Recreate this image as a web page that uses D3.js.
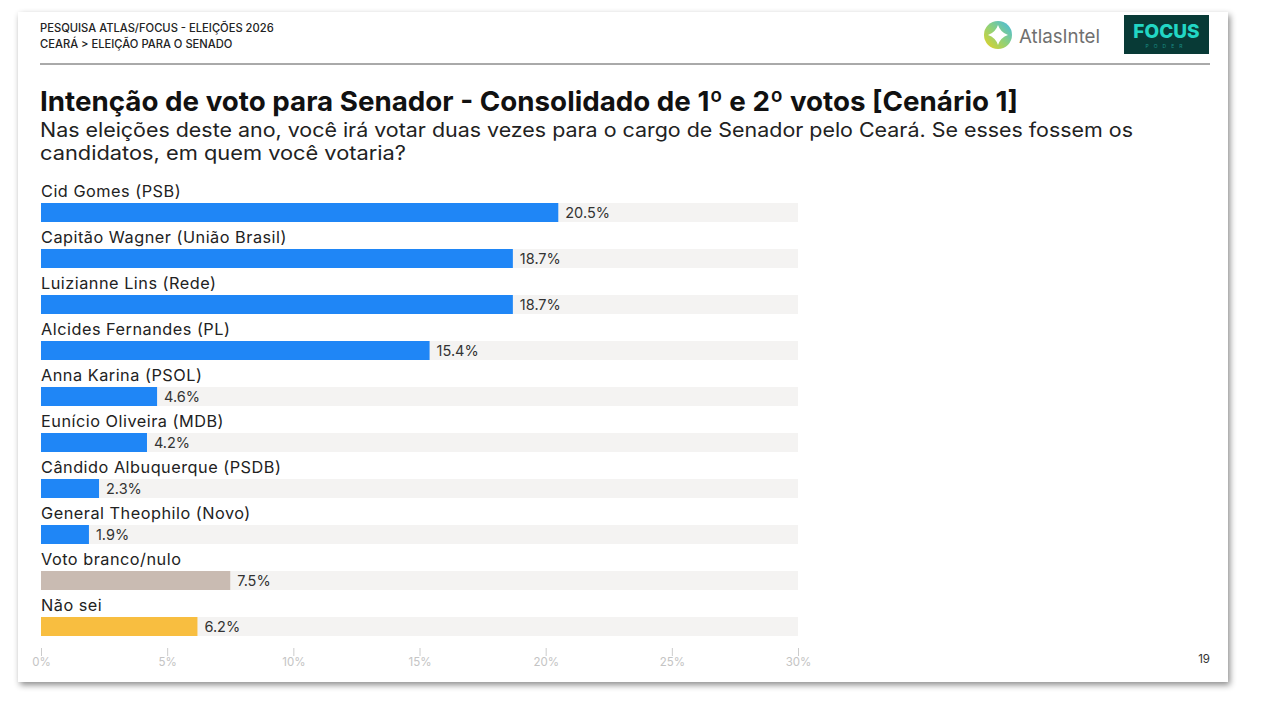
<!DOCTYPE html>
<html><head><meta charset="utf-8">
<script src="https://cdn.jsdelivr.net/npm/d3@7"></script>
<style>
html,body{margin:0;padding:0;background:#fff;}
svg{display:block;font-family:Inter,"Noto Sans",sans-serif;}
</style></head><body>
<svg id="c" width="1262" height="716"></svg>
<script>
const categories = ["Cid Gomes (PSB)","Capitão Wagner (União Brasil)","Luizianne Lins (Rede)","Alcides Fernandes (PL)","Anna Karina (PSOL)","Eunício Oliveira (MDB)","Cândido Albuquerque (PSDB)","General Theophilo (Novo)","Voto branco/nulo","Não sei"];
const values = [20.5,18.7,18.7,15.4,4.6,4.2,2.3,1.9,7.5,6.2];
const barGroups = ["cand","cand","cand","cand","cand","cand","cand","cand","blank","unknown"];
const tickValues = [0,5,10,15,20,25,30];
const tickLabels = ["0%","5%","10%","15%","20%","25%","30%"];
const headerLines = ["PESQUISA ATLAS/FOCUS - ELEIÇÕES 2026","CEARÁ > ELEIÇÃO PARA O SENADO"];
const title = "Intenção de voto para Senador - Consolidado de 1º e 2º votos [Cenário 1]";
const subtitleLines = ["Nas eleições deste ano, você irá votar duas vezes para o cargo de Senador pelo Ceará. Se esses fossem os","candidatos, em quem você votaria?"];

const svg = d3.select("#c");
const defs = svg.append("defs");
const f = defs.append("filter").attr("id","sh").attr("x","-5%").attr("y","-5%").attr("width","110%").attr("height","115%");
f.append("feDropShadow").attr("dx",2).attr("dy",3).attr("stdDeviation",3).attr("flood-color","#000").attr("flood-opacity",0.45);

// card
svg.append("rect").attr("x",18).attr("y",12).attr("width",1210).attr("height",670).attr("fill","#fff").attr("filter","url(#sh)");

// header
svg.selectAll("text.hdr").data(headerLines).join("text").attr("class","hdr")
  .attr("x",40).attr("y",(d,i)=>32+i*16).attr("font-size",11.2).attr("font-weight",500).attr("fill","#222").text(d=>d);
svg.append("line").attr("x1",40).attr("x2",1210).attr("y1",64).attr("y2",64).attr("stroke","#555").attr("stroke-width",1);

// AtlasIntel logo
const lg = svg.append("g").attr("transform","translate(998,35)");
const grad = defs.append("linearGradient").attr("id","lg1").attr("x1","0").attr("y1","1").attr("x2","1").attr("y2","0");
grad.append("stop").attr("offset","0").attr("stop-color","#e8d21e");
grad.append("stop").attr("offset","0.5").attr("stop-color","#8fd17a");
grad.append("stop").attr("offset","1").attr("stop-color","#3fb8e8");
lg.append("circle").attr("r",14).attr("fill","url(#lg1)");
lg.append("path").attr("d","M0,-10 Q2.5,-2.5 10,0 Q2.5,2.5 0,10 Q-2.5,2.5 -10,0 Q-2.5,-2.5 0,-10Z").attr("fill","#fff");
svg.append("text").attr("x",1019).attr("y",43).attr("font-size",19).attr("fill","#707070").attr("font-weight",400)
  .attr("textLength",81).attr("lengthAdjust","spacingAndGlyphs").text("AtlasIntel");

// FOCUS logo
svg.append("rect").attr("x",1124).attr("y",15).attr("width",85).attr("height",39).attr("fill","#083a36");
svg.append("text").attr("x",1166.5).attr("y",38).attr("text-anchor","middle").attr("font-size",19).attr("font-weight",800).attr("fill","#22d6c4").text("FOCUS");
svg.append("text").attr("x",1166.5).attr("y",48).attr("text-anchor","middle").attr("font-size",5).attr("letter-spacing",5).attr("fill","#1a8f86").text("PODER");

// title
svg.append("text").attr("x",40).attr("y",111).attr("font-size",27.5).attr("font-weight",700).attr("fill","#111")
  .attr("textLength",978).attr("lengthAdjust","spacingAndGlyphs").text(title);
const subLens = [1093, 366];
svg.selectAll("text.sub").data(subtitleLines).join("text").attr("class","sub")
  .attr("x",40).attr("y",(d,i)=>137+i*23).attr("font-size",20).attr("fill","#222")
  .attr("textLength",(d,i)=>subLens[i]).attr("lengthAdjust","spacingAndGlyphs").text(d=>d);

// scales
const x = d3.scaleLinear().domain([0,30]).range([41,798]);
const y = d3.scaleBand().domain(categories).range([184,644]).paddingInner(0).paddingOuter(0);
const color = d3.scaleOrdinal().domain(["cand","blank","unknown"]).range(["#1f86f6","#c9bbb2","#f8be40"]);
const barH = 19;
const rows = svg.append("g").selectAll("g").data(categories).join("g")
  .attr("transform",d=>`translate(0,${y(d)})`);
rows.append("text").attr("x",41).attr("y",13).attr("font-size",16.3).attr("letter-spacing",0.5).attr("fill","#222").text(d=>d);
rows.append("rect").attr("x",x(0)).attr("y",19).attr("width",x(30)-x(0)).attr("height",barH).attr("fill","#f4f3f2");
rows.append("rect").attr("x",x(0)).attr("y",19).attr("width",(d,i)=>x(values[i])-x(0)).attr("height",barH).attr("fill",(d,i)=>color(barGroups[i]));
rows.append("text").attr("x",(d,i)=>x(values[i])+7).attr("y",34).attr("font-size",14.5).attr("fill","#333")
  .text((d,i)=>values[i].toFixed(1)+"%");

// axis
const ax = svg.append("g").attr("transform","translate(0,648)")
  .call(d3.axisBottom(x).tickValues(tickValues).tickFormat((d,i)=>tickLabels[i]).tickSize(8).tickPadding(2));
ax.select(".domain").remove();
ax.selectAll(".tick line").attr("stroke","#ccc");
ax.selectAll(".tick text").attr("fill","#c4c4c4").attr("font-size",11.5).attr("font-family","Inter,sans-serif");

svg.append("text").attr("x",1210).attr("y",663).attr("text-anchor","end").attr("font-size",11.5).attr("fill","#333").text("19");
</script></body></html>
